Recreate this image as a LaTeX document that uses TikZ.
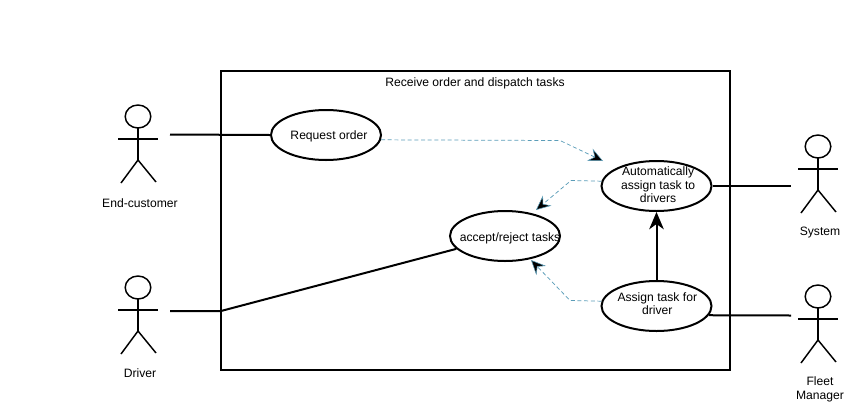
\documentclass[tikz,border=0pt]{standalone}
\usepackage{fontspec}
\setmainfont{Liberation Sans}
\usetikzlibrary{arrows.meta,shapes.geometric}
\definecolor{dashblue}{HTML}{5B9DB8}
\tikzset{
  usecase/.style={draw=black,line width=1.5pt,ellipse,minimum width=82.5pt,minimum height=37.5pt,inner sep=0pt},
  lbl/.style={inner sep=0pt,align=center,font=\fontsize{9.1}{10.2}\selectfont},
  link/.style={draw=black,line width=1.5pt},
  limb/.style={draw=black,line width=1.1pt},
  dep/.style={draw=dashblue,line width=0.55pt,dash pattern=on 3pt off 2pt,-{Stealth[length=11pt,width=10pt,inset=4pt,color=dashblue,fill=black,line width=0.4pt]}},
  solidarrow/.style={draw=black,line width=1.5pt,-{Stealth[length=13pt,width=11pt,inset=4pt]}},
  actor/.pic={
    \draw[limb] (0,-22.5) ellipse (12.8 and 11.5);
    \draw[limb] (0,-11) -- (0,21);
    \draw[limb] (-20,0) -- (20,0);
    \draw[limb] (-17,44) -- (0,21) -- (18,43);
  }
}
\begin{document}
\begin{tikzpicture}[x=0.75pt,y=-0.75pt]
\useasboundingbox (0,0) rectangle (868,415);
\node[draw=black,line width=1.5pt,minimum width=381.75pt,minimum height=224.25pt,inner sep=0pt] (frame) at (475.5,220.5) {};
\node[lbl] (title) at (475,83) {Receive order and dispatch tasks};
\node[usecase,label={[lbl,xshift=2.2pt,yshift=-1pt]center:Request order}] (req) at (326,135) {};
\node[usecase,label={[lbl,xshift=1.2pt,yshift=1pt]center:{Automatically\\assign task to\\drivers}}] (auto) at (656.5,186) {};
\node[usecase,label={[lbl,xshift=3.8pt,yshift=-1.6pt]center:accept/reject tasks}] (acc) at (505,236) {};
\node[usecase,label={[lbl,xshift=0.6pt,yshift=1.8pt]center:{Assign task for\\driver}}] (asg) at (656.5,306) {};
\pic at (138,139) {actor};
\pic at (138,310) {actor};
\pic at (818,169) {actor};
\pic at (818,319) {actor};
\node[lbl] (l1) at (140,203) {End-customer};
\node[lbl] (l2) at (140,373) {Driver};
\node[lbl] (l3) at (820,233) {System};
\node[lbl] (l4) at (820,389.5) {Fleet\\Manager};
\coordinate (c1) at (170,134.5);
\coordinate (c2) at (170,311);
\coordinate (c3) at (791,186);
\coordinate (c4) at (791,315.5);
\coordinate (fd) at (221,311);
\coordinate (b1) at (560,140.5);
\coordinate (b2) at (571,180.5);
\coordinate (b3) at (570,300.5);
\coordinate (e1) at (603,161);
\coordinate (e2) at (536,210);
\coordinate (e3) at (531,260);
\draw[link] (c1) -- (req.west);
\draw[link] (c2) -- (fd) -- (acc);
\draw[link] (auto) -- (c3);
\draw[link] (asg.-10) -- (c4);
\draw[solidarrow] (asg) -- (auto);
\path[dep] (req.-5) -- (b1) -- (e1);
\path[dep] (auto.175) -- (b2) -- (e2);
\path[dep] (asg.175) -- (b3) -- (e3);
\end{tikzpicture}
\end{document}
